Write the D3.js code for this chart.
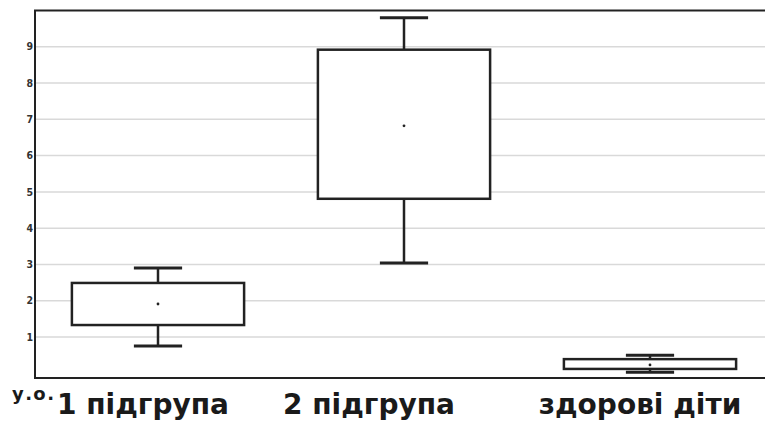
<!DOCTYPE html>
<html>
<head>
<meta charset="utf-8">
<script src="https://cdnjs.cloudflare.com/ajax/libs/d3/7.8.5/d3.min.js"></script>
<style>
  body { margin: 0; background: #fff; }
  svg { display: block; }
</style>
</head>
<body>
<svg id="chart"></svg>
<script>
// Data
const groups = ["1 підгрупа", "2 підгрупа", "здорові діти"];
const whiskerLow = [0.75, 3.04, 0.03];
const q1 = [1.33, 4.81, 0.12];
const q3 = [2.49, 8.92, 0.39];
const whiskerHigh = [2.90, 9.80, 0.50];
const means = [1.91, 6.82, 0.23];
const yTicks = [1, 2, 3, 4, 5, 6, 7, 8, 9];
const unitLabel = "у.о.";

// Layout
const width = 765;
const height = 422;
const plotLeft = 35, plotTop = 10.5, plotBottom = 378, plotRight = 773;
const labelShift = [-15, -35, -10];

const svg = d3.select("#chart")
  .attr("width", width)
  .attr("height", height);

const x = d3.scaleBand().domain(groups).range([plotLeft, plotRight]).paddingInner(0.3).paddingOuter(0.15);
const y = d3.scaleLinear().domain([-0.13, 10]).range([plotBottom, plotTop]);

const ink = "#222";

// Grid lines
svg.append("g")
  .selectAll("line")
  .data(yTicks)
  .enter().append("line")
  .attr("x1", plotLeft).attr("x2", width)
  .attr("y1", d => y(d)).attr("y2", d => y(d))
  .style("stroke", "#d9d9d9")
  .style("stroke-width", "1.5px");

// Tick labels
svg.append("g")
  .selectAll("text")
  .data(yTicks)
  .enter().append("text")
  .attr("x", plotLeft - 2)
  .attr("y", d => y(d))
  .attr("dy", "0.35em")
  .attr("text-anchor", "end")
  .style("font-family", "DejaVu Sans Condensed")
  .style("font-weight", "bold")
  .style("font-size", "10.5px")
  .style("fill", "#333")
  .text(d => d);

// Boxes
const boxes = svg.append("g")
  .selectAll("g")
  .data(groups)
  .enter().append("g");

const cx = d => x(d) + x.bandwidth() / 2;
const capW = x.bandwidth() * 0.28;

boxes.append("line")
  .attr("x1", cx).attr("x2", cx)
  .attr("y1", (d, i) => y(whiskerHigh[i]))
  .attr("y2", (d, i) => y(whiskerLow[i]))
  .style("stroke", ink).style("stroke-width", "2.5px");

boxes.append("rect")
  .attr("x", d => x(d))
  .attr("width", x.bandwidth())
  .attr("y", (d, i) => y(q3[i]))
  .attr("height", (d, i) => y(q1[i]) - y(q3[i]))
  .style("fill", "#fff")
  .style("stroke", ink).style("stroke-width", "2.5px");

[whiskerHigh, whiskerLow].forEach(arr => {
  boxes.append("line")
    .attr("x1", d => cx(d) - capW / 2)
    .attr("x2", d => cx(d) + capW / 2)
    .attr("y1", (d, i) => y(arr[i]))
    .attr("y2", (d, i) => y(arr[i]))
    .style("stroke", ink).style("stroke-width", "3px");
});

boxes.append("circle")
  .attr("cx", cx)
  .attr("cy", (d, i) => y(means[i]))
  .attr("r", 1.4)
  .style("fill", ink);

// Frame
svg.append("path")
  .attr("d", `M${width},${plotTop}H${plotLeft}V${plotBottom}H${width}`)
  .style("fill", "none")
  .style("stroke", ink)
  .style("stroke-width", "2px");

// Category labels
svg.append("g")
  .selectAll("text")
  .data(groups)
  .enter().append("text")
  .attr("x", (d, i) => cx(d) + labelShift[i])
  .attr("y", 414)
  .attr("text-anchor", "middle")
  .style("font-family", "DejaVu Sans")
  .style("font-weight", "bold")
  .style("font-size", "28px")
  .style("fill", "#1a1a1a")
  .text(d => d);

svg.append("text")
  .attr("x", 12)
  .attr("y", 400)
  .style("font-family", "DejaVu Sans")
  .style("font-weight", "bold")
  .style("font-size", "18px")
  .style("letter-spacing", "1.4px")
  .style("fill", "#1a1a1a")
  .text(unitLabel);
</script>
</body>
</html>
